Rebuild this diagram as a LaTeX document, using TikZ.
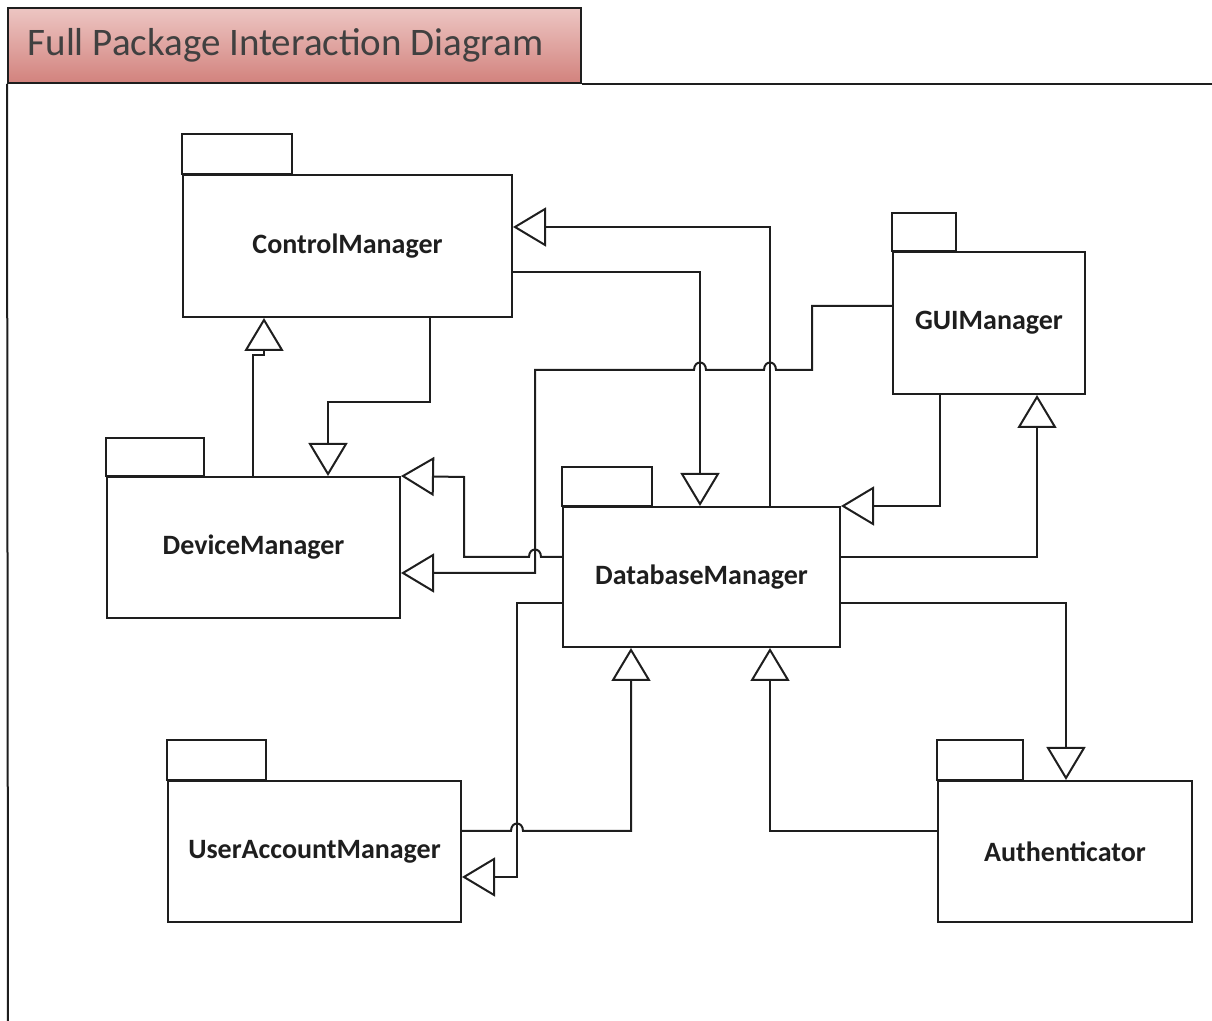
\documentclass[tikz,border=0pt]{standalone}
\usepackage{fontspec}
\setmainfont{Carlito}
\usetikzlibrary{arrows.meta,fit}
\definecolor{ink}{HTML}{1E1E1E}
\definecolor{tabtop}{HTML}{EDC6C3}
\definecolor{tabbottom}{HTML}{D2827D}

\begin{document}
\begin{tikzpicture}[x=0.5pt,y=-0.5pt,line width=1pt,text=ink,
  pkg/.style={draw=ink,inner sep=0pt},
  pkgname/.style={font=\fontsize{14}{17}\selectfont\bfseries},
  tab/.style={draw=ink},
  gen/.style={draw=ink,-{Triangle[open,length=16.5pt,width=19.5pt]}}]
  \useasboundingbox (0,0) rectangle (1212,1021);

  % title tab and frame
  \node[draw=ink,inner sep=0pt,top color=tabtop,bottom color=tabbottom,
        fit={(8,8) (581,83)}] (title) {};
  \node[anchor=west,font=\fontsize{19.5}{23}\selectfont,text=ink!85] (titletext)
    at (20,45) {Full Package Interaction Diagram};
  \coordinate (framebl) at (8,1021);
  \coordinate (frametr) at (1212,84);
  \draw[ink] (title.south west) -- (framebl);
  \draw[ink] (title.south east |- frametr) -- (frametr);

  % packages
  \node[pkg,fit={(183,175) (512,317)}] (cm) {};
  \node[pkgname] (cmname) at (cm) {ControlManager};
  \draw[tab] (cm.north west) rectangle ++(110,-40);

  \node[pkg,fit={(893,252) (1085,394)}] (gui) {};
  \node[pkgname] (guiname) at (gui) {GUIManager};
  \draw[tab] (gui.north west) rectangle ++(64,-38);

  \node[pkg,fit={(107,477) (400,618)}] (dev) {};
  \node[pkgname] (devname) at (dev) {DeviceManager};
  \draw[tab] (dev.north west) rectangle ++(98,-38);

  \node[pkg,fit={(563,507) (840,647)}] (db) {};
  \node[pkgname] (dbname) at (db) {DatabaseManager};
  \draw[tab] (db.north west) rectangle ++(90,-39);

  \node[pkg,fit={(168,781) (461,922)}] (uam) {};
  \node[pkgname] (uamname) at (uam) {UserAccountManager};
  \draw[tab] (uam.north west) rectangle ++(99,-40);

  \node[pkg,fit={(938,781) (1192,922)}] (auth) {};
  \node[pkgname] (authname) at (auth) {Authenticator};
  \draw[tab] (auth.north west) rectangle ++(86,-40);

  % generalisations
  \draw[gen] (db.north -| 770,0) |- (cm.east |- 0,227);
  \draw[gen] (cm.east |- 0,272) -| (db.north -| 700,0);
  \draw[gen] (gui.west |- 0,306) -- (812,306) -- (812,370) -- (776,370)
    .. controls (776,360) and (764,360) .. (764,370) -- (706,370)
    .. controls (706,360) and (694,360) .. (694,370) -- (535,370)
    -- (535,573) -- (dev.east |- 0,573);
  \draw[gen] (db.west |- 0,557) -- (541,557)
    .. controls (541,547) and (529,547) .. (529,557) -- (464,557)
    -- (464,477) -- (dev.north east);
  \draw[gen] (cm.south -| 430,0) |- (328,402) -- (dev.north -| 328,0);
  \draw[gen] (dev.north -| 253,0) -- (253,355) -- (264,355) -- (cm.south -| 264,0);
  \draw[gen] (gui.south -| 940,0) |- (db.east |- 0,506);
  \draw[gen] (db.east |- 0,557) -| (gui.south -| 1037,0);
  \draw[gen] (db.east |- 0,603) -| (auth.north -| 1066,0);
  \draw[gen] (auth.west |- 0,831) -| (db.south -| 770,0);
  \draw[gen] (uam.east |- 0,831) -- (511,831)
    .. controls (511,821) and (523,821) .. (523,831) -| (db.south -| 631,0);
  \draw[gen] (db.west |- 0,603) -- (517,603) |- (uam.east |- 0,877);
\end{tikzpicture}
\end{document}
